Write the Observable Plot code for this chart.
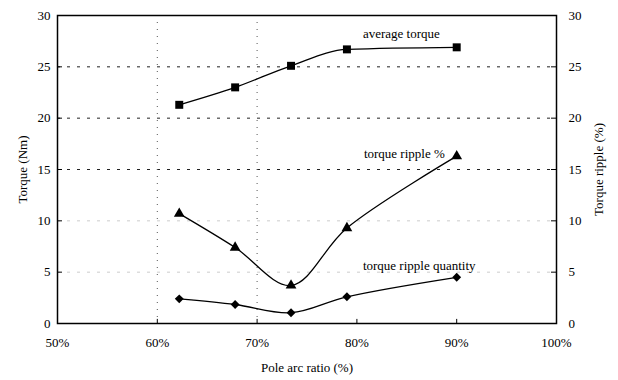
<!DOCTYPE html>
<html><head><meta charset="utf-8">
<script src="https://cdn.jsdelivr.net/npm/d3@7"></script>
<script src="https://cdn.jsdelivr.net/npm/@observablehq/plot@0.6"></script>
<style>body{margin:0;background:#fff}</style>
</head><body><div id="chart"></div>
<script>
const poleArc = [62.2, 67.8, 73.4, 79.0, 90.0];
const avgTorque = [21.3, 23.0, 25.1, 26.7, 26.9];
const ripplePct = [10.7, 7.4, 3.7, 9.3, 16.3];
const rippleQty = [2.4, 1.85, 1.05, 2.6, 4.5];
const xTicks = [50, 60, 70, 80, 90, 100];
const yTicks = [0, 5, 10, 15, 20, 25, 30];
const gridMajor = [15, 20, 25];
const gridMinor = [5, 10];
const gridX = [60, 70];
const labelText = ["average torque", "torque ripple %", "torque ripple quantity"];
const labelX = [80.6, 80.7, 80.6];
const labelY = [28.2, 16.5, 5.65];

const rows = (vals, name) => poleArc.map((x, i) => ({x, y: vals[i], series: name}));
const avgRows = rows(avgTorque, "avg");
const pctRows = rows(ripplePct, "pct");
const qtyRows = rows(rippleQty, "qty");
const labels = labelText.map((t, i) => ({text: t, x: labelX[i], y: labelY[i]}));
const pct = d => d + "%";

const chart = Plot.plot({
  width: 618, height: 380,
  marginLeft: 57, marginRight: 62, marginTop: 15, marginBottom: 57,
  x: {domain: [50, 100]},
  y: {domain: [0, 30]},
  style: {fontFamily: "Liberation Serif, serif", fontSize: "13px", color: "#000", background: "#fff"},
  marks: [
    Plot.ruleY(gridMinor, {stroke: "#ccc", strokeDasharray: "3,7", strokeWidth: 1}),
    Plot.ruleY(gridMajor, {stroke: "#222", strokeDasharray: "3,7", strokeWidth: 1}),
    Plot.ruleX(gridX, {stroke: "#555", strokeDasharray: "1,6", strokeWidth: 1}),
    Plot.ruleX(xTicks.slice(1, -1), {y1: 0, y2: 0.4, stroke: "#000"}),
    Plot.ruleY(yTicks.slice(1, -1), {x1: 50, x2: 50.5, stroke: "#000"}),
    Plot.ruleY(yTicks.slice(1, -1), {x1: 99.5, x2: 100, stroke: "#000"}),
    Plot.frame({stroke: "#000", strokeWidth: 1.5}),
    Plot.axisX({ticks: xTicks, tickSize: 0, tickPadding: 14, tickFormat: pct, label: "Pole arc ratio (%)", labelAnchor: "center", labelOffset: 48, labelArrow: "none"}),
    Plot.axisY({anchor: "left", ticks: yTicks, tickSize: 0, tickPadding: 7, label: "Torque (Nm)", labelAnchor: "center", labelOffset: 40, labelArrow: "none"}),
    Plot.axisY({anchor: "right", ticks: yTicks, tickSize: 0, tickPadding: 12, label: "Torque ripple (%)", labelAnchor: "center", labelOffset: 46, labelArrow: "none"}),
    Plot.line(avgRows, {x: "x", y: "y", curve: "monotone-x", stroke: "#000", strokeWidth: 1.3}),
    Plot.line(pctRows, {x: "x", y: "y", curve: "catmull-rom", stroke: "#000", strokeWidth: 1.3}),
    Plot.line(qtyRows, {x: "x", y: "y", curve: "catmull-rom", stroke: "#000", strokeWidth: 1.3}),
    Plot.dot(avgRows, {x: "x", y: "y", symbol: "square", r: 4.5, fill: "#000", stroke: "none"}),
    Plot.dot(pctRows, {x: "x", y: "y", symbol: "triangle", r: 4, fill: "#000", stroke: "none"}),
    Plot.dot(qtyRows, {x: "x", y: "y", symbol: "diamond2", r: 4, fill: "#000", stroke: "none"}),
    Plot.text(labels, {x: "x", y: "y", text: "text", textAnchor: "start", fontSize: 13, fill: "#000"})
  ]
});
document.getElementById("chart").appendChild(chart);
</script>
</body></html>
